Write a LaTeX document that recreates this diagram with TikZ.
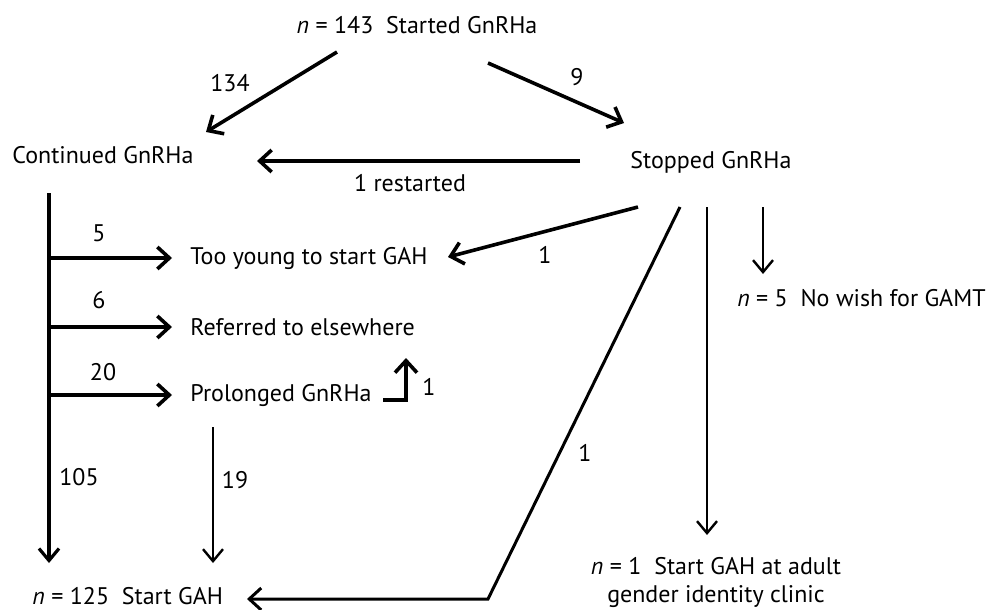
\documentclass[tikz,border=0pt]{standalone}
\usepackage{fontspec}
\setmainfont{PT Sans}
\usepackage{tikz}
\usetikzlibrary{arrows.meta}

\begin{document}
\begin{tikzpicture}[
            x=0.5pt, y=-0.5pt,
            every node/.style={inner sep=0pt, font=\fontsize{12}{14}\selectfont},
            thickarr/.style={line width=1.8pt, -{Straight Barb[length=6pt,width=11pt]}},
            thinarr/.style={line width=1.2pt, -{Straight Barb[length=6pt,width=10pt]}},
            num/.style={anchor=center}
        ]
        \useasboundingbox (0,0) rectangle (990,610);
        % Boxes of text
        \node (start) at (417,25) {\textit{n} = 143\ \ Started GnRHa};
        \node[anchor=west] (cont) at (12,155) {Continued GnRHa};
        \node[anchor=west] (stop) at (630,162) {Stopped GnRHa};
        \node[anchor=west] (young) at (190,258) {Too young to start GAH};
        \node[anchor=west] (refer) at (190,327) {Referred to elsewhere};
        \node[anchor=west] (prolong) at (190,395) {Prolonged GnRHa};
        \node[anchor=west] (gah) at (32,596) {\textit{n} = 125\ \ Start GAH};
        \node[anchor=east] (nowish) at (986,298) {\textit{n} = 5\ \ No wish for GAMT};
        \node[align=center] (adult) at (716,582) {\textit{n} = 1\ \ Start GAH at adult\\gender identity clinic};
        % Ends of the connectors
        \coordinate (s1) at (337,52);   \coordinate (c1) at (206,132);
        \coordinate (s2) at (488,63);   \coordinate (t2) at (624,123);
        \coordinate (r1) at (580,161);  \coordinate (r2) at (257,161);
        \coordinate (trunk) at (49,193); \coordinate (trunkend) at (49,563);
        \coordinate (y1) at (638,207);  \coordinate (y2) at (448,257);
        \coordinate (d1) at (680,207);  \coordinate (d2) at (488,599); \coordinate (d3) at (247,599);
        \coordinate (v1) at (707,207);  \coordinate (v2) at (707,535);
        \coordinate (w1) at (763,207);  \coordinate (w2) at (763,274);
        \coordinate (e1) at (383,400);  \coordinate (e2) at (406,400); \coordinate (e3) at (406,358);
        \coordinate (p1) at (213,427);  \coordinate (p2) at (213,563);
        % Connectors
        \draw[thickarr] (s1) -- (c1);
        \draw[thickarr] (s2) -- (t2);
        \draw[thickarr] (r1) -- (r2);
        \draw[line width=1.6pt, -{Straight Barb[length=6pt,width=10pt]}] (trunk) -- (trunkend);
        \foreach \ypos in {258, 327, 395}
            \draw[thickarr] (49,\ypos) -- (172,\ypos);
        \draw[thickarr] (y1) -- (y2);
        \draw[line width=1.5pt, -{Straight Barb[length=6pt,width=11pt]}] (d1) -- (d2) -- (d3);
        \draw[thinarr] (v1) -- (v2);
        \draw[thinarr] (w1) -- (w2);
        \draw[thickarr] (e1) -- (e2) -- (e3);
        \draw[thinarr] (p1) -- (p2);
        % Numbers on the connectors
        \node[num] (n134) at (230,83) {134};
        \node[num] (n9) at (577,77) {9};
        \node[num] (nrestart) at (410,183) {1 restarted};
        \node[num] (n5) at (99,233) {5};
        \node[num] (n6) at (99,300) {6};
        \node[num] (n20) at (103,372) {20};
        \node[num] (n1a) at (545,255) {1};
        \node[num] (n1b) at (429,387) {1};
        \node[num] (n1c) at (585,453) {1};
        \node[num] (n105) at (79,477) {105};
        \node[num] (n19) at (235,480) {19};
\end{tikzpicture}
\end{document}
